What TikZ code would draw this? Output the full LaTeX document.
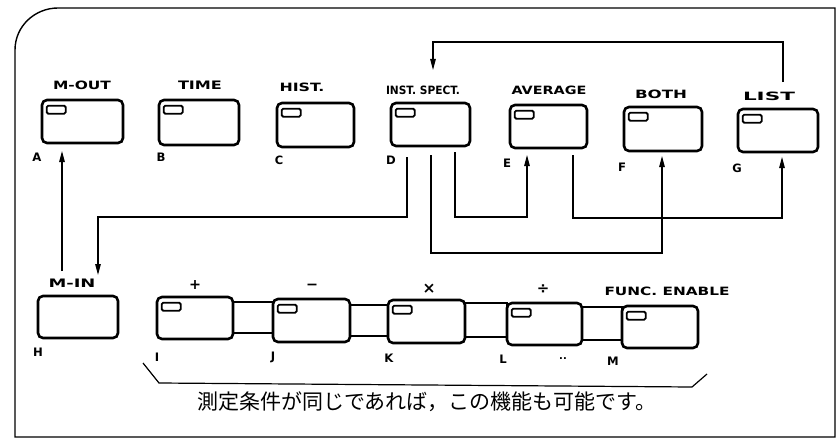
\documentclass[tikz,border=0pt]{standalone}
\usepackage{fontspec}
\usepackage{graphicx}
\setmainfont{DejaVu Sans}
\newfontfamily\jpfont{Noto Sans CJK JP}
\usetikzlibrary{arrows.meta,fit,calc}
\newcommand\lbx[2]{\resizebox{#1}{8.5pt}{\bfseries #2}}
\newcommand\ltr[1]{\resizebox{!}{8.5pt}{\bfseries #1}}
\newcommand\opx[2]{\resizebox{#1}{!}{\bfseries #2}}
\begin{document}
\begin{tikzpicture}[x=1pt,y=-1pt,
  btn/.style={draw, line width=2.6pt, rounded corners=5pt, inner sep=0pt, fill=white},
  linkbar/.style={draw, line width=2.6pt},
  ind/.style={draw, line width=1.8pt, rounded corners=1.5pt},
  wire/.style={line width=1.2pt},
  arr/.style={wire, -{Triangle[length=11pt,width=5.5pt]}},
  ttl/.style={inner sep=0pt, anchor=center},
  lett/.style={inner sep=0pt, anchor=center},
  frm/.style={line width=1.4pt}]

\useasboundingbox (0,0) rectangle (837,444);

% frame
\draw[frm] (15,437) -- (15,50) .. controls (15,26) and (35,8) .. (58,8) -- (835,8) -- (835,437) -- cycle;

% top row buttons
\node[btn, fit={(42,100) (123,143)}] (A) {};
\node[btn, fit={(159,100) (239,145)}] (B) {};
\node[btn, fit={(277,103) (354,147)}] (C) {};
\node[btn, fit={(391,103) (470,146)}] (D) {};
\node[btn, fit={(510,105) (587,148)}] (E) {};
\node[btn, fit={(624,107) (702,151)}] (F) {};
\node[btn, fit={(738,109) (818,152)}] (G) {};

% titles top row
\node[ttl] (tA) at (82,85) {\lbx{58pt}{M-OUT}};
\node[ttl] (tB) at (200,85) {\lbx{44pt}{TIME}};
\node[ttl] (tC) at (302,87) {\lbx{45pt}{HIST.}};
\node[ttl] (tD) at (423,90) {\lbx{74pt}{INST. SPECT.}};
\node[ttl] (tE) at (549,90) {\lbx{75pt}{AVERAGE}};
\node[ttl] (tF) at (661,94) {\lbx{52pt}{BOTH}};
\node[ttl] (tG) at (769,96) {\lbx{52pt}{LIST}};

% letters top row
\node[lett] (lA) at (37,157) {\ltr{A}};
\node[lett] (lB) at (161,157) {\ltr{B}};
\node[lett] (lC) at (279,160) {\ltr{C}};
\node[lett] (lD) at (391,160) {\ltr{D}};
\node[lett] (lE) at (507,163) {\ltr{E}};
\node[lett] (lF) at (622,167) {\ltr{F}};
\node[lett] (lG) at (737,168) {\ltr{G}};

% bottom row links
\draw[linkbar] (233,302) rectangle (273,333);
\draw[linkbar] (350,305) rectangle (388,336);
\draw[linkbar] (465,303) rectangle (507,337);
\draw[linkbar] (582,307) rectangle (622,340);

% bottom row buttons
\node[btn, fit={(38,296) (118,338)}] (H) {};
\node[btn, fit={(157,297) (233,339)}] (I) {};
\node[btn, fit={(273,299) (350,342)}] (J) {};
\node[btn, fit={(388,300) (465,343)}] (K) {};
\node[btn, fit={(507,303) (582,345)}] (L) {};
\node[btn, fit={(622,306) (698,348)}] (M) {};

% indicators
\foreach \b in {A,B,C,D,E,F,G,I,J,K,L,M}
  \draw[ind] ($(\b.north west)+(6,7)$) rectangle ++(19,8);

% titles bottom row
\node[ttl] (tH) at (72,283) {\lbx{47pt}{M-IN}};
\node[ttl] (tI) at (195,285) {\opx{12pt}{+}};
\node[ttl] (tJ) at (312,287) {\opx{12pt}{−}};
\node[ttl] (tK) at (429,289) {\opx{13pt}{×}};
\node[ttl] (tL) at (543,289) {\opx{12.5pt}{÷}};
\node[ttl] (tM) at (667,291) {\lbx{125pt}{FUNC. ENABLE}};

% letters bottom row
\node[lett] (lH) at (38,352) {\ltr{H}};
\node[lett] (lI) at (157,357) {\ltr{I}};
\node[lett] (lJ) at (273,357) {\ltr{J}};
\node[lett] (lK) at (389,358) {\ltr{K}};
\node[lett] (lL) at (503,359) {\ltr{L}};
\node[lett, font=\fontsize{10}{10}\selectfont\bfseries] (ldots) at (563,359) {..};
\node[lett] (lM) at (613,361) {\ltr{M}};

% bracket and caption
\draw[wire] (143,363) -- (159,383) -- (692,387) -- (707,374);
\node[inner sep=0pt, font=\jpfont\fontsize{21}{21}\selectfont] (cap) at (427,402) {測定条件が同じであれば，この機能も可能です。};

% connectors
\coordinate (gBot) at (783,82);
\coordinate (gTop) at (783,42);
\coordinate (dTip) at (433,70);
\draw[arr] (gBot) -- (gTop) -| (dTip);

\coordinate (hTop) at (62,271);
\coordinate (aTip) at (62,151);
\draw[arr] (hTop) -- (aTip);

\coordinate (d1) at (407,157);
\coordinate (h1) at (98,275);
\draw[arr] (d1) -- ++(0,60) -| (h1);

\coordinate (d2) at (431,155);
\coordinate (f1) at (662,156);
\draw[arr] (d2) -- ++(0,98) -| (f1);

\coordinate (d3) at (455,152);
\coordinate (e1) at (527,155);
\draw[arr] (d3) -- ++(0,65) -| (e1);

\coordinate (e2) at (573,155);
\coordinate (g1) at (782,157);
\draw[arr] (e2) -- ++(0,63) -| (g1);
\end{tikzpicture}
\end{document}
